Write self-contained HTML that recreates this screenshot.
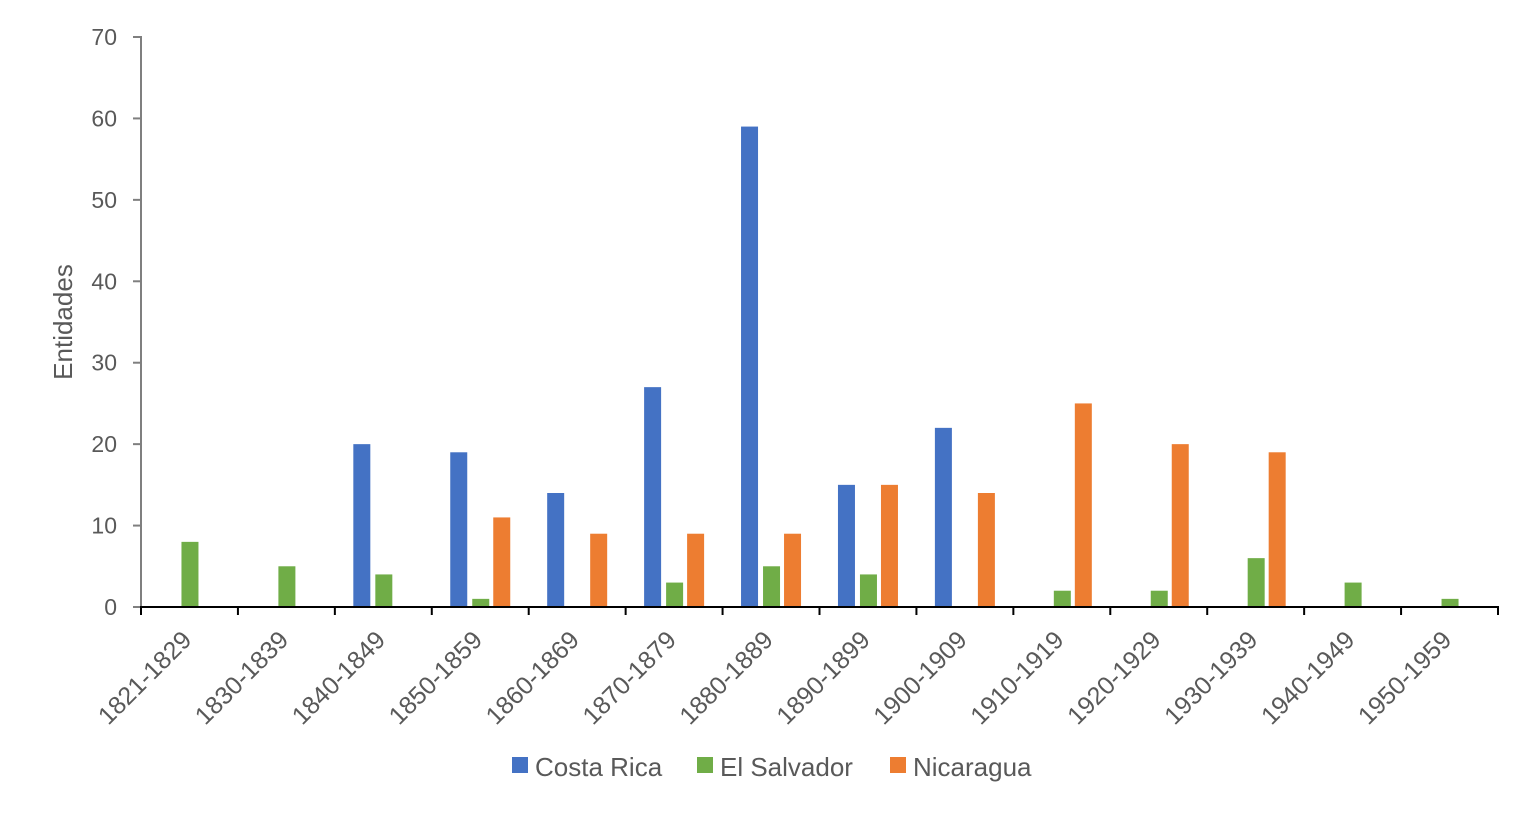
<!DOCTYPE html>
<html><head><meta charset="utf-8"><style>
html,body{margin:0;padding:0;background:#fff;}
svg{display:block;font-family:"Liberation Sans",sans-serif;}
</style></head><body>
<svg width="1536" height="815" viewBox="0 0 1536 815" xmlns="http://www.w3.org/2000/svg">
<g id="bars"></g>
<g id="axes"></g>
<script>
(function(){
var ns="http://www.w3.org/2000/svg";
var cr=[0,0,20,19,14,27,59,15,22,0,0,0,0,0];
var es=[8,5,4,1,0,3,5,4,0,2,2,6,3,1];
var ni=[0,0,0,11,9,9,9,15,14,25,20,19,0,0];
var labs=["1821-1829","1830-1839","1840-1849","1850-1859","1860-1869","1870-1879","1880-1889","1890-1899","1900-1909","1910-1919","1920-1929","1930-1939","1940-1949","1950-1959"];
var x0=141,x1=1498,y0=607,k=570/70,w=(x1-x0)/14;
var b=document.getElementById("bars"),a=document.getElementById("axes");
function el(p,t,at,txt){var e=document.createElementNS(ns,t);for(var q in at)e.setAttribute(q,at[q]);if(txt!=null)e.textContent=txt;p.appendChild(e);return e;}
function bar(x,v,c){if(v>0)el(b,"rect",{x:x,y:y0-v*k,width:17,height:v*k,fill:c});}
for(var i=0;i<14;i++){var c=x0+(i+0.5)*w;
bar(c-30,cr[i],"#4472C4");bar(c-8,es[i],"#70AD47");bar(c+13,ni[i],"#ED7D31");
el(a,"text",{x:0,y:0,transform:"translate("+(c-9)+",629) rotate(-45)","text-anchor":"end","font-size":"25",fill:"#595959","dominant-baseline":"hanging"},labs[i]);
}
for(var j=0;j<=7;j++){var y=y0-j*10*k;
el(a,"line",{x1:133,x2:141,y1:y,y2:y,stroke:"#7f7f7f","stroke-width":"2"});
el(a,"text",{x:117,y:y+8,"text-anchor":"end","font-size":"23",fill:"#595959"},String(j*10));}
el(a,"line",{x1:141,x2:141,y1:36,y2:607,stroke:"#7f7f7f","stroke-width":"2"});
el(a,"line",{x1:140,x2:1499,y1:607,y2:607,stroke:"#000","stroke-width":"2"});
for(var i=0;i<=14;i++){var x=x0+i*w;el(a,"line",{x1:x,x2:x,y1:607,y2:615,stroke:"#000","stroke-width":"2"});}
el(a,"text",{x:0,y:0,transform:"translate(72,322) rotate(-90)","text-anchor":"middle","font-size":"26",fill:"#595959"},"Entidades");
var L=[["Costa Rica","#4472C4",512],["El Salvador","#70AD47",697],["Nicaragua","#ED7D31",890]];
L.forEach(function(l){el(a,"rect",{x:l[2],y:757,width:16,height:16,fill:l[1]});
el(a,"text",{x:l[2]+23,y:776,"font-size":"26",fill:"#595959"},l[0]);});
})();
</script>
</svg>
</body></html>
